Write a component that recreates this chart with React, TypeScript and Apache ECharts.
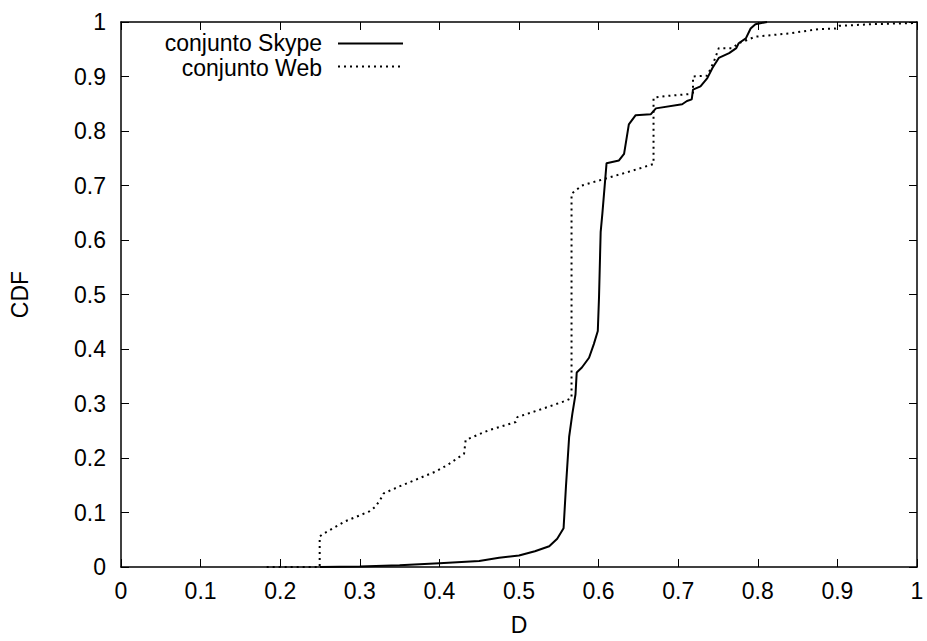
import React, { useEffect, useRef } from "react";
import * as echarts from "echarts";

const xTicks = [0, 0.1, 0.2, 0.3, 0.4, 0.5, 0.6, 0.7, 0.8, 0.9, 1];
const yTicks = [0, 0.1, 0.2, 0.3, 0.4, 0.5, 0.6, 0.7, 0.8, 0.9, 1];

const seriesNames = ["conjunto Skype", "conjunto Web"];

const skypeX = [0.25, 0.3, 0.35, 0.4, 0.45, 0.475, 0.5, 0.52, 0.538, 0.548, 0.556, 0.559, 0.563, 0.567, 0.571, 0.5725, 0.579, 0.588, 0.594, 0.599, 0.6005, 0.6026, 0.6047, 0.61, 0.6256, 0.632, 0.638, 0.6466, 0.6654, 0.672, 0.705, 0.711, 0.717, 0.7186, 0.728, 0.7366, 0.743, 0.751, 0.764, 0.773, 0.776, 0.785, 0.791, 0.797, 0.8116];
const skypeY = [0, 0.001, 0.003, 0.007, 0.011, 0.017, 0.021, 0.029, 0.038, 0.052, 0.071, 0.148, 0.239, 0.281, 0.317, 0.357, 0.366, 0.384, 0.409, 0.433, 0.494, 0.615, 0.648, 0.741, 0.746, 0.758, 0.812, 0.829, 0.8306, 0.8415, 0.849, 0.855, 0.858, 0.876, 0.882, 0.897, 0.9155, 0.934, 0.943, 0.952, 0.961, 0.97, 0.988, 0.996, 1.0];

const webX = [0.183, 0.2496, 0.2496, 0.253, 0.282, 0.312, 0.32, 0.328, 0.33, 0.349, 0.37, 0.395, 0.41, 0.431, 0.433, 0.462, 0.496, 0.498, 0.529, 0.5587, 0.566, 0.566, 0.579, 0.6, 0.642, 0.669, 0.669, 0.684, 0.7157, 0.7186, 0.7186, 0.7366, 0.745, 0.751, 0.768, 0.776, 0.797, 0.839, 0.877, 0.898, 0.902, 0.944, 0.994, 1.0];
const webY = [0, 0, 0.056, 0.06, 0.084, 0.102, 0.111, 0.129, 0.135, 0.1475, 0.16, 0.175, 0.187, 0.208, 0.233, 0.251, 0.266, 0.275, 0.29, 0.305, 0.31, 0.685, 0.7, 0.709, 0.727, 0.7395, 0.861, 0.864, 0.868, 0.87, 0.9, 0.9016, 0.928, 0.952, 0.952, 0.961, 0.973, 0.979, 0.987, 0.988, 0.993, 0.996, 0.998, 1.0];

const FONT = "Liberation Sans";

export default function App() {
  const ref = useRef<HTMLDivElement>(null);
  useEffect(() => {
    document.body.style.margin = "0";
    if (!ref.current) return;
    const chart = echarts.init(ref.current, undefined, { renderer: "svg" });
    const skype = skypeX.map((x, i) => [x, skypeY[i]]);
    const web = webX.map((x, i) => [x, webY[i]]);
    const tickStyle = { show: true, inside: true, length: 8, lineStyle: { color: "#000", width: 1 } };
    const lineAx = { show: true, onZero: false, lineStyle: { color: "#000", width: 1.5 } };
    const label = { color: "#000", fontFamily: FONT, fontSize: 23 };
    chart.setOption({
      animation: false,
      backgroundColor: "#fff",
      grid: { left: 121, right: 10, top: 22, bottom: 70 },
      xAxis: [
        {
          type: "value", min: xTicks[0], max: xTicks[xTicks.length - 1], interval: 0.1,
          position: "bottom",
          name: "D", nameLocation: "middle", nameGap: 46,
          nameTextStyle: { ...label },
          axisLine: lineAx, axisTick: tickStyle,
          axisLabel: { ...label, margin: 12 },
          splitLine: { show: false },
        },
        {
          type: "value", min: 0, max: 1, interval: 0.1, position: "top",
          axisLine: lineAx, axisTick: tickStyle, axisLabel: { show: false }, splitLine: { show: false },
        },
      ],
      yAxis: [
        {
          type: "value", min: yTicks[0], max: yTicks[yTicks.length - 1], interval: 0.1,
          position: "left",
          name: "CDF", nameLocation: "middle", nameGap: 90, nameRotate: 90,
          nameTextStyle: { ...label },
          axisLine: lineAx, axisTick: tickStyle,
          axisLabel: { ...label, margin: 15 },
          splitLine: { show: false },
        },
        {
          type: "value", min: 0, max: 1, interval: 0.1, position: "right",
          axisLine: lineAx, axisTick: tickStyle, axisLabel: { show: false }, splitLine: { show: false },
        },
      ],
      series: [
        {
          name: seriesNames[0], type: "line", data: skype, showSymbol: false, symbol: "none",
          xAxisIndex: 0, yAxisIndex: 0,
          lineStyle: { color: "#000", width: 2 }, itemStyle: { color: "#000" },
        },
        {
          name: seriesNames[1], type: "line", data: web, showSymbol: false, symbol: "none",
          xAxisIndex: 0, yAxisIndex: 0,
          lineStyle: { color: "#000", width: 2, type: [2, 4] }, itemStyle: { color: "#000" },
        },
      ],
      graphic: [
        { type: "text", x: 322, y: 43, style: { text: seriesNames[0], fill: "#000", font: `23px "${FONT}"`, textAlign: "right", textVerticalAlign: "middle" } },
        { type: "line", shape: { x1: 338, y1: 43.5, x2: 403, y2: 43.5 }, style: { stroke: "#000", lineWidth: 2 } },
        { type: "text", x: 322, y: 67.5, style: { text: seriesNames[1], fill: "#000", font: `23px "${FONT}"`, textAlign: "right", textVerticalAlign: "middle" } },
        { type: "line", shape: { x1: 338, y1: 66.5, x2: 401, y2: 66.5 }, style: { stroke: "#000", lineWidth: 2, lineDash: [2, 4] } },
      ],
    });
    return () => chart.dispose();
  }, []);
  return <div ref={ref} style={{ width: 927, height: 641 }} />;
}
